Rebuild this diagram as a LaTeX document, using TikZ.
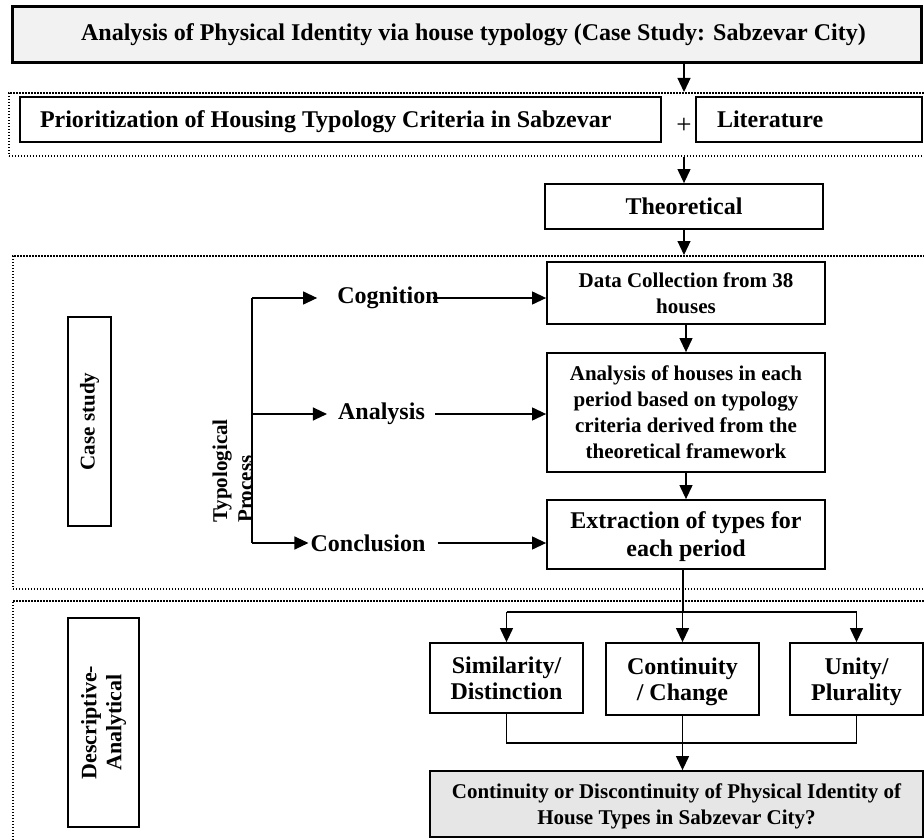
\documentclass[tikz,border=0pt]{standalone}
\usepackage{fontspec}
\setmainfont{Liberation Serif}
\usetikzlibrary{arrows.meta}

\definecolor{titlegray}{HTML}{F2F2F2}
\definecolor{resultgray}{HTML}{E6E6E6}

\tikzset{
  box/.style={draw, line width=1.8pt, align=center, inner sep=0pt,
    font=\bfseries\fontsize{24}{27}\selectfont},
  smallbox/.style={box, font=\bfseries\fontsize{21}{26}\selectfont},
  frame/.style={draw, line width=1.6pt, dash pattern=on 1.6pt off 1.4pt,
    inner sep=0pt, anchor=north west},
  lbl/.style={font=\bfseries\fontsize{24}{27}\selectfont, inner sep=2pt},
  line/.style={line width=1.2pt},
  arr/.style={line width=1.2pt, -{Triangle[length=14pt,width=13pt]}}
}

\begin{document}
\begin{tikzpicture}[x=1pt, y=-1pt]
    \useasboundingbox (0,0) rectangle (924,840);
    % Drawing the title
    \node [box, fill=titlegray, line width=3pt, minimum width=909, minimum height=56] (title) at (466.5,35)
      {\hspace*{14pt}Analysis of Physical Identity via house typology (Case Study: Sabzevar City)};
    % Drawing the first dotted frame and its boxes
    \node [frame, minimum width=930, minimum height=63] (frameA) at (8,92) {};
    \node [box, text width=601, align=flush left, inner xsep=20, minimum height=45, text depth=0pt] (prio) at (340.5,119.5)
      {Prioritization of Housing Typology Criteria in Sabzevar};
    \node [font=\fontsize{27}{28}\selectfont, inner sep=0pt] (plus) at (684,126) {+};
    \node [box, text width=184, align=flush left, inner xsep=21, minimum height=45, text depth=0pt] (lit) at (809,119.5) {Literature};
    \node [box, minimum width=278, minimum height=45] (theo) at (684,206.5) {Theoretical};
    \draw [arr] (title.south -| plus) -- (frameA.north -| plus);
    \draw [arr] (frameA.south -| theo) -- (theo.north);
    % Drawing the case study frame
    \node [frame, minimum width=930, minimum height=333] (frameB) at (12,255) {};
    \draw [arr] (theo.south) -- (frameB.north -| theo);
    \node [smallbox, minimum width=278, minimum height=62, text depth=-4pt] (data) at (686,293)
      {Data Collection from 38\\houses};
    \node [smallbox, minimum width=278, minimum height=119] (anal) at (686,412.5)
      {Analysis of houses in each\\period based on typology\\criteria derived from the\\theoretical framework};
    \node [box, font=\bfseries\fontsize{24}{28}\selectfont, minimum width=278, minimum height=69, text depth=-6pt] (extr) at (686,534.5)
      {Extraction of types for\\each period};
    \draw [arr] (data) -- (anal);
    \draw [arr] (anal) -- (extr);
    \node [smallbox, rotate=90, minimum width=209, minimum height=43] (case) at (89.5,421.5) {Case study};
    % Drawing the typological process
    \node [lbl, font=\bfseries\fontsize{21}{25}\selectfont, rotate=90, anchor=west, align=left, inner sep=0pt] (typo)
      at (232.5,523) {Typological\\Process};
    \node [lbl] (cog) at (388,298) {Cognition};
    \node [lbl] (ana) at (381.5,414) {Analysis};
    \node [lbl] (conc) at (368,543) {Conclusion};
    \coordinate (ptop) at (252,298);
    \coordinate (pbot) at (252,543);
    \draw [line] (ptop) -- (pbot);
    \draw [arr] (ptop) -- ([xshift=-18pt]cog.west);
    \draw [arr] (ptop |- ana.west) -- ([xshift=-9pt]ana.west);
    \draw [arr] (pbot) -- (conc.west);
    \draw [arr] ([xshift=-8pt]cog.east) -- (cog.east -| data.west);
    \draw [arr] ([xshift=8pt]ana.east) -- (ana.east -| anal.west);
    \draw [arr] ([xshift=10pt]conc.east) -- (conc.east -| extr.west);
    % Drawing the descriptive-analytical frame
    \node [frame, minimum width=930, minimum height=260] (frameC) at (12,600) {};
    \node [box, font=\bfseries\fontsize{22}{25}\selectfont, rotate=90, minimum width=209, minimum height=71] (desc)
      at (103.5,722.5) {Descriptive-\\Analytical};
    \node [box, font=\bfseries\fontsize{24}{26}\selectfont, minimum width=153, minimum height=70, text depth=-5pt] (sim) at (506.5,678) {Similarity/\\Distinction};
    \node [box, font=\bfseries\fontsize{24}{26}\selectfont, minimum width=153, minimum height=72, text depth=-5pt] (cont) at (682.5,679) {Continuity\\/ Change};
    \node [box, font=\bfseries\fontsize{24}{26}\selectfont, minimum width=133, minimum height=72, text depth=-5pt] (unity) at (856.5,679) {Unity/\\Plurality};
    \node [smallbox, fill=resultgray, minimum width=493, minimum height=66, text depth=-3pt] (final) at (676.5,804)
      {Continuity or Discontinuity of Physical Identity of\\House Types in Sabzevar City?};
    \coordinate (split) at (683,612);
    \coordinate (join) at (683,743);
    \draw [line] (extr.south -| split) -- (split);
    \draw [line] (sim.north |- split) -- (unity.north |- split);
    \foreach \b in {sim,cont,unity}
      \draw [arr] (\b.north |- split) -- (\b.north);
    \draw [line] (sim.south) -- (sim.south |- join) -- (unity.south |- join) -- (unity.south);
    \draw [arr] (cont.south) -- (final.north -| cont.south);
\end{tikzpicture}
\end{document}
